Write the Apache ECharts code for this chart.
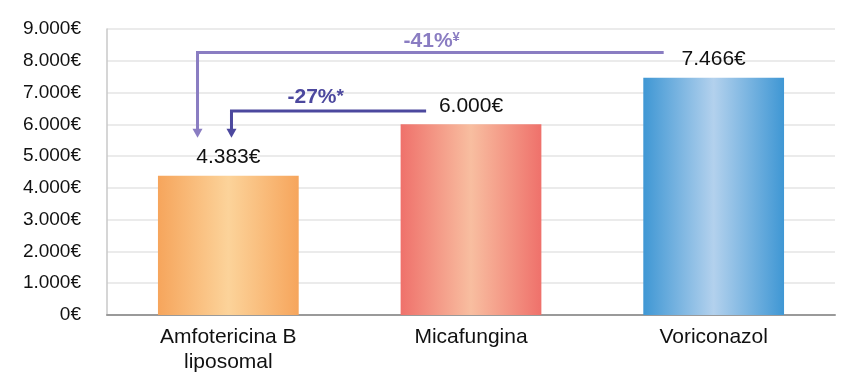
<!DOCTYPE html>
<html>
<head>
<meta charset="utf-8">
<script src="https://cdn.jsdelivr.net/npm/echarts@6/dist/echarts.min.js"></script>
<style>
  html, body { margin: 0; padding: 0; background: #ffffff; }
  #chart { width: 851px; height: 375px; }
</style>
</head>
<body>
<div id="chart"></div>
<script>
  // datos
  var categories = ['Amfotericina B\nliposomal', 'Micafungina', 'Voriconazol']
  var costs = [4383, 6000, 7466]
  var yTicks = [0, 1000, 2000, 3000, 4000, 5000, 6000, 7000, 8000, 9000]

  // colores de las barras (borde, centro)
  var edgeColors = ['#f6a55c', '#ef716b', '#3f97d4']
  var midColors = ['#fcd39a', '#f8bea0', '#b3d1ed']

  // flechas de comparacion (posicion x en indice de categoria)
  var arrowStartX = [1.794, 0.815]
  var arrowEndX = [-0.127, 0.013]
  var arrowLevel = [8260, 6420]
  var arrowTip = [5580, 5580]
  var arrowText = ['-41%', '-27%']
  var arrowMark = ['¥', '*']
  var arrowTextX = [0.838, 0.36]
  var arrowTextY = [8620, 6850]
  var arrowColors = ['#8a7dc2', '#4c489e']

  function euro (v) {
    var s = String(Math.round(v))
    s = s.replace(/\B(?=(\d{3})+(?!\d))/g, '.')
    return s + '€'
  }

  var chart = echarts.init(document.getElementById('chart'))

  // convierte indice fraccionario de categoria a pixel
  function xPix (api, x, v) {
    var base = Math.round(x)
    var p = api.coord([base, v])
    var band = api.size([1, 0])[0]
    return [p[0] + (x - base) * band, p[1]]
  }

  chart.setOption({
    animation: false,
    textStyle: { fontFamily: 'Liberation Sans, Arial, sans-serif' },
    grid: { left: 107, right: 16, top: 29, bottom: 58 },
    xAxis: {
      type: 'category',
      data: categories,
      axisTick: { show: false },
      axisLine: { lineStyle: { color: '#9a9a9a', width: 2 } },
      axisLabel: { color: '#111', fontSize: 21, lineHeight: 25, margin: 10, interval: 0 }
    },
    yAxis: {
      type: 'value',
      min: yTicks[0],
      max: yTicks[yTicks.length - 1],
      interval: 1000,
      axisLine: { show: true, lineStyle: { color: '#c8c8c8', width: 1.5 } },
      axisTick: { show: false },
      splitLine: { lineStyle: { color: '#e4e4e4', width: 1.5 } },
      axisLabel: { color: '#111', fontSize: 19, margin: 26, formatter: euro }
    },
    series: [
      {
        type: 'bar',
        barWidth: '58%',
        data: costs.map(function (v, i) {
          return {
            value: v,
            itemStyle: {
              color: new echarts.graphic.LinearGradient(0, 0, 1, 0, [
                { offset: 0, color: edgeColors[i] },
                { offset: 0.5, color: midColors[i] },
                { offset: 1, color: edgeColors[i] }
              ])
            }
          }
        }),
        label: {
          show: true,
          position: 'top',
          distance: 8,
          color: '#111',
          fontSize: 21,
          formatter: function (p) { return euro(p.value) }
        }
      },
      {
        type: 'custom',
        silent: true,
        z: 5,
        data: arrowLevel.map(function (v, i) { return [i, v] }),
        renderItem: function (params, api) {
          var i = params.dataIndex
          var c = arrowColors[i]
          var a = xPix(api, arrowStartX[i], arrowLevel[i])
          var b = xPix(api, arrowEndX[i], arrowLevel[i])
          var t = xPix(api, arrowEndX[i], arrowTip[i])
          var lab = xPix(api, arrowTextX[i], arrowTextY[i])
          return {
            type: 'group',
            children: [
              {
                type: 'polyline',
                shape: { points: [a, b, [t[0], t[1] - 7]] },
                style: { stroke: c, lineWidth: 3, fill: null }
              },
              {
                type: 'polygon',
                shape: { points: [[t[0] - 5, t[1] - 9], [t[0] + 5, t[1] - 9], [t[0], t[1]]] },
                style: { fill: c }
              },
              {
                type: 'text',
                x: lab[0],
                y: lab[1],
                style: {
                  text: '{a|' + arrowText[i] + '}{b|' + arrowMark[i] + '}',
                  align: 'center',
                  verticalAlign: 'middle',
                  rich: {
                    a: { fontSize: 21, fontWeight: 'bold', fill: c, fontFamily: 'Liberation Sans' },
                    b: { fontSize: i === 0 ? 13 : 19, fontWeight: 'bold', fill: c, fontFamily: 'Liberation Sans', verticalAlign: 'top' }
                  }
                }
              }
            ]
          }
        }
      }
    ]
  })
</script>
</body>
</html>
